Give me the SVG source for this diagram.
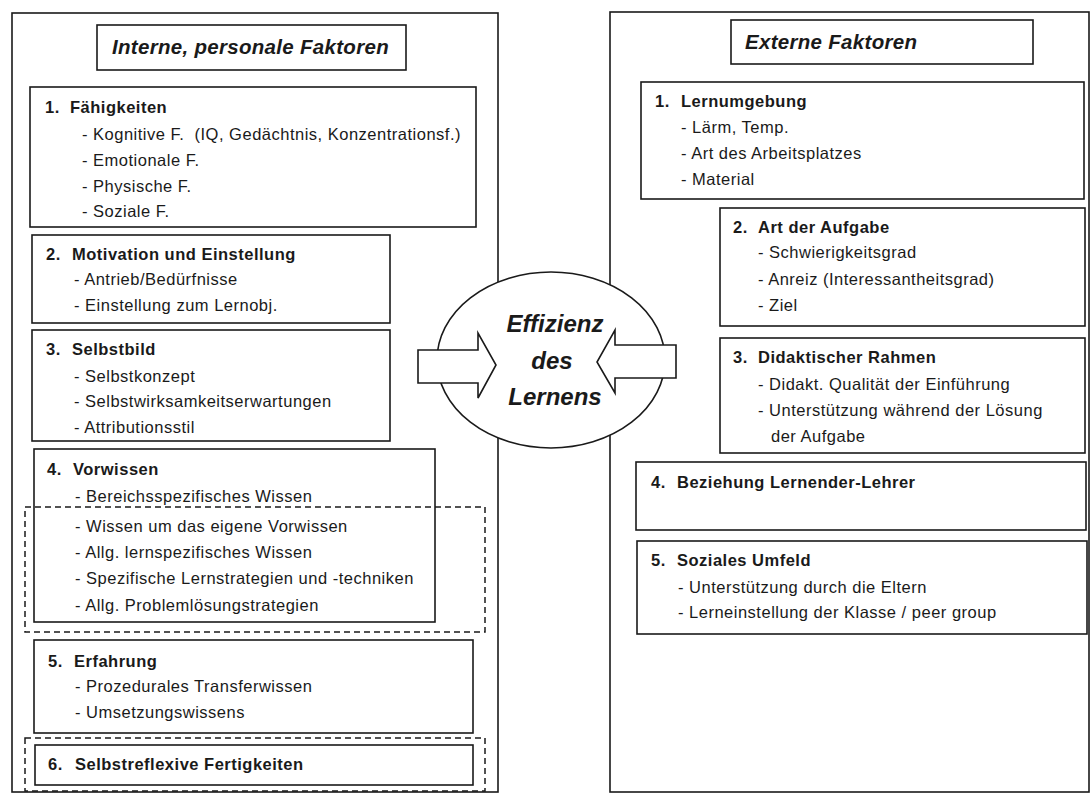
<svg xmlns="http://www.w3.org/2000/svg" width="1092" height="794" viewBox="0 0 1092 794">
<style>
.box{fill:none;stroke:#1a1a1a;stroke-width:1.6}
.dash{fill:none;stroke:#1a1a1a;stroke-width:1.5;stroke-dasharray:6 4}
.t{font-family:"Liberation Sans",Arial,sans-serif;font-size:16.5px;letter-spacing:0.5px;fill:#1a1a1a}
.h{font-family:"Liberation Sans",Arial,sans-serif;font-size:16.5px;letter-spacing:0.5px;font-weight:bold;fill:#1a1a1a}
.ti{font-family:"Liberation Sans",Arial,sans-serif;font-size:20.5px;letter-spacing:0.3px;font-weight:bold;font-style:italic;fill:#1a1a1a}
.c{font-family:"Liberation Sans",Arial,sans-serif;font-size:24px;font-weight:bold;font-style:italic;fill:#1a1a1a;text-anchor:middle}
</style>
<rect width="1092" height="794" fill="#ffffff"/>
<g id="left-panel">
<rect class="box" x="12" y="13" width="486" height="779"/>
<rect class="box" x="97" y="25" width="309" height="45"/>
<text class="ti" x="112" y="54">Interne, personale Faktoren</text>
</g>
<g id="l1">
<rect class="box" x="30" y="87" width="446" height="140"/>
<text class="h" x="45" y="113">1.</text><text class="h" x="70" y="113">Fähigkeiten</text>
<text class="t" x="82" y="140">- Kognitive F.&#160; (IQ, Gedächtnis, Konzentrationsf.)</text>
<text class="t" x="82" y="166">- Emotionale F.</text>
<text class="t" x="82" y="192">- Physische F.</text>
<text class="t" x="82" y="217">- Soziale F.</text>
</g>
<g id="l2">
<rect class="box" x="32" y="235" width="358" height="88"/>
<text class="h" x="46" y="260">2.</text><text class="h" x="72" y="260">Motivation und Einstellung</text>
<text class="t" x="74" y="285">- Antrieb/Bedürfnisse</text>
<text class="t" x="74" y="311">- Einstellung zum Lernobj.</text>
</g>
<g id="l3">
<rect class="box" x="32" y="330" width="358" height="111"/>
<text class="h" x="46" y="355">3.</text><text class="h" x="72" y="355">Selbstbild</text>
<text class="t" x="74" y="382">- Selbstkonzept</text>
<text class="t" x="74" y="407">- Selbstwirksamkeitserwartungen</text>
<text class="t" x="74" y="433">- Attributionsstil</text>
</g>
<g id="l4">
<rect class="box" x="34" y="449" width="401" height="173"/>
<rect class="dash" x="25" y="507" width="460" height="125"/>
<text class="h" x="47" y="475">4.</text><text class="h" x="73" y="475">Vorwissen</text>
<text class="t" x="75" y="502">- Bereichsspezifisches Wissen</text>
<text class="t" x="75" y="532">- Wissen um das eigene Vorwissen</text>
<text class="t" x="75" y="558">- Allg. lernspezifisches Wissen</text>
<text class="t" x="75" y="584">- Spezifische Lernstrategien und -techniken</text>
<text class="t" x="75" y="611">- Allg. Problemlösungstrategien</text>
</g>
<g id="l5">
<rect class="box" x="34" y="640" width="439" height="93"/>
<text class="h" x="48" y="667">5.</text><text class="h" x="74" y="667">Erfahrung</text>
<text class="t" x="75" y="692">- Prozedurales Transferwissen</text>
<text class="t" x="75" y="718">- Umsetzungswissens</text>
</g>
<g id="l6">
<rect class="dash" x="25" y="738" width="460" height="53"/>
<rect class="box" x="35" y="745" width="438" height="40"/>
<text class="h" x="48" y="770">6.</text><text class="h" x="75" y="770">Selbstreflexive Fertigkeiten</text>
</g>
<g id="right-panel">
<rect class="box" x="610" y="12" width="479" height="780"/>
<rect class="box" x="731" y="20" width="302" height="44"/>
<text class="ti" x="745" y="49">Externe Faktoren</text>
</g>
<g id="r1">
<rect class="box" x="641" y="82" width="443" height="117"/>
<text class="h" x="655" y="107">1.</text><text class="h" x="681" y="107">Lernumgebung</text>
<text class="t" x="681" y="133">- Lärm, Temp.</text>
<text class="t" x="681" y="159">- Art des Arbeitsplatzes</text>
<text class="t" x="681" y="185">- Material</text>
</g>
<g id="r2">
<rect class="box" x="720" y="208" width="365" height="118"/>
<text class="h" x="733" y="233">2.</text><text class="h" x="758" y="233">Art der Aufgabe</text>
<text class="t" x="758" y="258">- Schwierigkeitsgrad</text>
<text class="t" x="758" y="285">- Anreiz (Interessantheitsgrad)</text>
<text class="t" x="758" y="311">- Ziel</text>
</g>
<g id="r3">
<rect class="box" x="720" y="338" width="365" height="115"/>
<text class="h" x="733" y="363">3.</text><text class="h" x="758" y="363">Didaktischer Rahmen</text>
<text class="t" x="758" y="390">- Didakt. Qualität der Einführung</text>
<text class="t" x="758" y="416">- Unterstützung während der Lösung</text>
<text class="t" x="771" y="442">der Aufgabe</text>
</g>
<g id="r4">
<rect class="box" x="636" y="462" width="450" height="68"/>
<text class="h" x="651" y="488">4.</text><text class="h" x="677" y="488">Beziehung Lernender-Lehrer</text>
</g>
<g id="r5">
<rect class="box" x="637" y="541" width="450" height="93"/>
<text class="h" x="651" y="566">5.</text><text class="h" x="677" y="566">Soziales Umfeld</text>
<text class="t" x="678" y="593">- Unterstützung durch die Eltern</text>
<text class="t" x="678" y="618">- Lerneinstellung der Klasse / peer group</text>
</g>
<g id="center">
<ellipse cx="551" cy="360" rx="114" ry="88" fill="#ffffff" stroke="#1a1a1a" stroke-width="1.6"/>
<text class="c" x="555" y="332">Effizienz</text>
<text class="c" x="552" y="369">des</text>
<text class="c" x="555" y="405">Lernens</text>
</g>
<g id="connectors">
<polygon points="418,350 478,350 478,333 496,365 478,398 478,383 418,383" fill="#ffffff" stroke="#1a1a1a" stroke-width="1.6" stroke-linejoin="miter"/>
<polygon points="676,345 615,345 615,330 597,362 615,393 615,378 676,378" fill="#ffffff" stroke="#1a1a1a" stroke-width="1.6" stroke-linejoin="miter"/>
</g>
</svg>
